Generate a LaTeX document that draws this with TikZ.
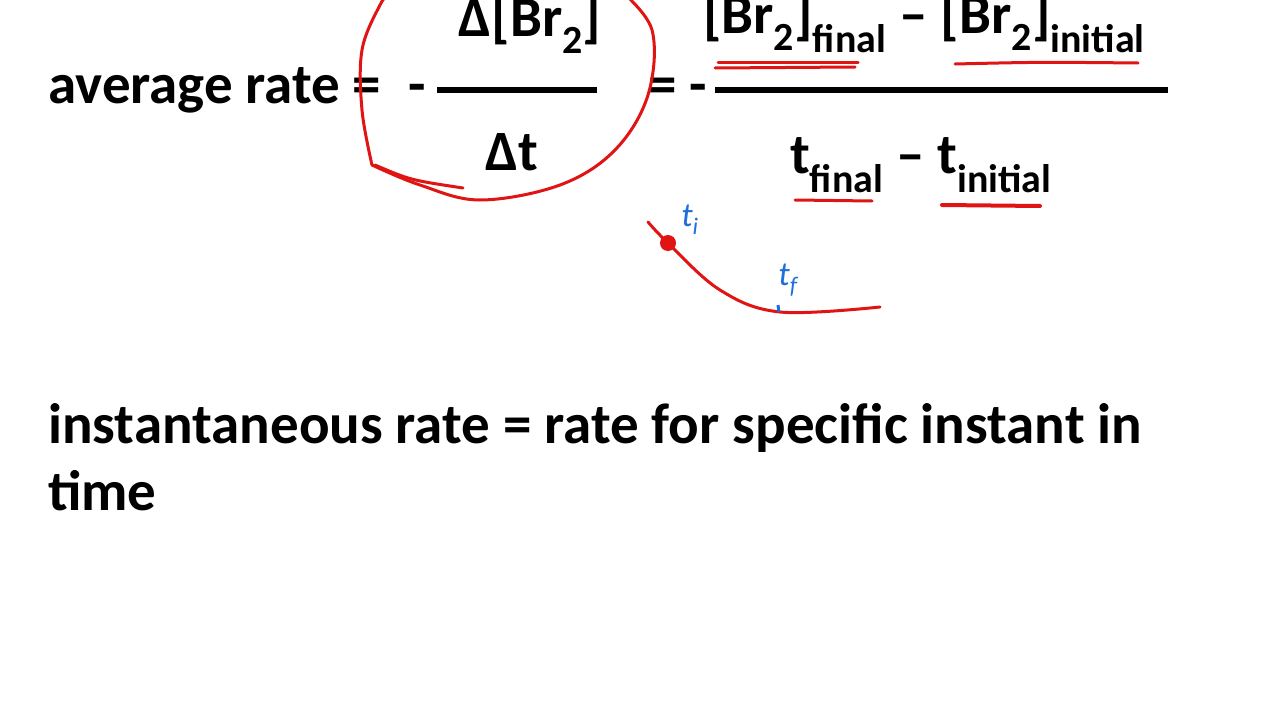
\documentclass[tikz,border=0pt]{standalone}
\usepackage{fontspec}
\setmainfont{Carlito}
\definecolor{pen}{RGB}{225,20,20}
\definecolor{bpen}{RGB}{30,110,220}
\begin{document}
\begin{tikzpicture}[x=1pt,y=-1pt,
  txt/.style={font=\fontsize{57}{60}\selectfont\bfseries,anchor=base west,inner sep=0},
  bar/.style={line width=6pt},
  red/.style={pen,line width=3pt,line cap=round,line join=round},
  blue/.style={bpen,font=\fontsize{34}{34}\itshape,inner sep=0}]
\useasboundingbox[fill=white] (0,0) rectangle (1280,720);
\node[txt] (avg) at (48,103) {average rate =};
\node[txt] (m1) at (408,103) {-};
\draw[bar] (437,90) -- (597,90);
\node[txt,anchor=base] (num1) at (530,36) {Δ[Br\textsubscript{2}]};
\node[txt,anchor=base] (den1) at (512,170) {Δt};
\node[txt] (eq2) at (648,103) {= -};
\draw[bar] (715,90) -- (1168,90);
\node[txt,anchor=base] (num2) at (924,33) {[Br\textsubscript{2}]\textsubscript{final} – [Br\textsubscript{2}]\textsubscript{initial}};
\node[txt,anchor=base] (den2) at (921,173) {t\textsubscript{final} – t\textsubscript{initial}};
\node[txt] (inst) at (48,443) {instantaneous rate = rate for specific instant in};
\node[txt] (time) at (48,510) {time};
% annotations
\draw[red] plot[smooth,tension=0.6] coordinates {(372,165) (362,110) (362,50) (380,5) (392,-10)};
\draw[red] plot[smooth,tension=0.6] coordinates {(620,-10) (652,30) (648,95) (615,150) (560,185) (480,200) (420,185) (372,165)};
\draw[red] (375,165) .. controls (410,180) .. (463,188);
\draw[red] (718,62) -- (858,62); \draw[red] (715,68) -- (855,67);
\draw[red] (955,64) .. controls (1040,62) .. (1138,63);
\draw[red] (795,200) -- (872,201);
\draw[red,line width=4pt] (942,205) -- (1040,206);
\draw[red] plot[smooth,tension=0.6] coordinates {(648,222) (668,243) (720,290) (780,312) (880,307)};
\fill[pen] (668,243) circle (8);
\node[blue] (ti) at (690,220) {t\textsubscript{i}};
\node[blue] (tf) at (788,280) {t\textsubscript{f}};
\draw[bpen,line width=3pt] (778,305) -- (779,312);
\end{tikzpicture}
\end{document}
